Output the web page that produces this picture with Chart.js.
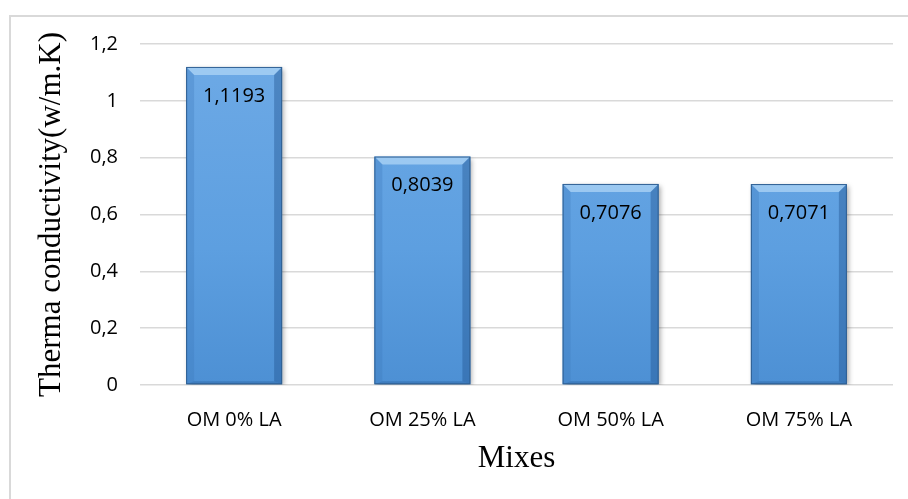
<!DOCTYPE html>
<html lang="en">
<head>
    <meta charset="UTF-8">
    <title>Therma conductivity</title>
    <script src="https://cdn.jsdelivr.net/npm/chart.js@4.4.1/dist/chart.umd.min.js"></script>
    <style>
        html, body { margin: 0; padding: 0; background: #fff; }
        .wrap { position: relative; width: 908px; height: 499px; overflow: hidden; }
        .frame { position: absolute; left: 9px; top: 15px; width: 920px; height: 520px;
                 border-left: 2px solid #d9d9d9; border-top: 2px solid #d9d9d9; box-sizing: border-box; }
        canvas { position: absolute; left: 0; top: 0; }
    </style>
</head>
<body>
<div class="wrap">
    <div class="frame"></div>
    <canvas id="myChart" width="908" height="499"></canvas>
</div>

<script>
    const categories = ['OM 0% LA', 'OM 25% LA', 'OM 50% LA', 'OM 75% LA'];
    const conductivity = [1.1193, 0.8039, 0.7076, 0.7071];
    const yTicks = [0, 0.2, 0.4, 0.6, 0.8, 1, 1.2];

    function comma(v) {
        return String(v).replace('.', ',');
    }

    // bevel + shadow look of the excel bars
    const bevelPlugin = {
        id: 'bevel',
        beforeDatasetDraw(chart) {
            const c = chart.ctx;
            c.save();
            c.shadowColor = 'rgba(0,0,0,0.35)';
            c.shadowBlur = 5;
            c.shadowOffsetX = 2;
            c.shadowOffsetY = 2;
        },
        afterDatasetDraw(chart) {
            const c = chart.ctx;
            c.restore();
            const b = 8;
            chart.getDatasetMeta(0).data.forEach(function(el) {
                const p = el.getProps(['x', 'y', 'base', 'width'], true);
                const l = p.x - p.width / 2, r = p.x + p.width / 2, t = p.y, bt = p.base;
                function poly(pts, col) {
                    c.beginPath();
                    c.moveTo(pts[0][0], pts[0][1]);
                    for (let i = 1; i < pts.length; i++) c.lineTo(pts[i][0], pts[i][1]);
                    c.closePath();
                    c.fillStyle = col;
                    c.fill();
                }
                c.save();
                poly([[l, t], [r, t], [r - b, t + b], [l + b, t + b]], 'rgba(170,210,245,0.8)');
                poly([[l, t], [l + b, t + b], [l + b, bt - 3], [l, bt]], 'rgba(60,120,185,0.3)');
                poly([[r, t], [r - b, t + b], [r - b, bt - 3], [r, bt]], 'rgba(30,80,140,0.4)');
                poly([[l, bt], [l + b, bt - 3], [r - b, bt - 3], [r, bt]], 'rgba(30,80,140,0.3)');
                c.strokeStyle = '#2f5f92';
                c.lineWidth = 1;
                c.strokeRect(l + 0.5, t + 0.5, p.width - 1, bt - t - 1);
                c.restore();
            });
        },
        afterDatasetsDraw(chart) {
            const c = chart.ctx;
            c.save();
            c.font = '20px "Open Sans"';
            c.fillStyle = '#000';
            c.textAlign = 'center';
            c.textBaseline = 'middle';
            chart.getDatasetMeta(0).data.forEach(function(el, i) {
                c.fillText(comma(conductivity[i]), el.x, el.y + 29);
            });
            c.restore();
        }
    };

    const ctx = document.getElementById('myChart').getContext('2d');
    const myChart = new Chart(ctx, {
        type: 'bar',
        data: {
            labels: categories,
            datasets: [{
                data: conductivity,
                backgroundColor: function(context) {
                    const area = context.chart.chartArea;
                    if (!area) return '#5b9bd5';
                    const g = context.chart.ctx.createLinearGradient(0, area.top, 0, area.bottom);
                    g.addColorStop(0, '#6eaae6');
                    g.addColorStop(0.6, '#5d9fe0');
                    g.addColorStop(1, '#4d90d4');
                    return g;
                },
                borderWidth: 0,
                categoryPercentage: 1,
                barPercentage: 0.51
            }]
        },
        options: {
            responsive: false,
            animation: false,
            layout: { padding: { top: 44, right: 15, left: 0, bottom: 0 } },
            plugins: {
                legend: { display: false },
                tooltip: { enabled: false }
            },
            scales: {
                x: {
                    grid: { display: false, drawTicks: false },
                    border: { display: false },
                    ticks: { padding: 23, color: '#000', font: { family: 'Open Sans', size: 20 } },
                    title: {
                        display: true,
                        text: 'Mixes',
                        color: '#000',
                        font: { family: 'Liberation Serif', size: 31 },
                        padding: { top: 0, bottom: 22 }
                    },
                    afterFit(scale) { scale.height = 114; }
                },
                y: {
                    min: 0,
                    max: 1.2,
                    afterBuildTicks(scale) {
                        scale.ticks = yTicks.map(function(v) { return { value: v }; });
                    },
                    grid: { color: '#d9d9d9', lineWidth: 1.5, drawTicks: false },
                    border: { display: false },
                    ticks: {
                        padding: 22,
                        color: '#000',
                        font: { family: 'Open Sans', size: 20 },
                        callback: function(v) { return comma(Number(v.toFixed(1))); }
                    },
                    title: {
                        display: true,
                        text: 'Therma conductivity(w/m.K)',
                        color: '#000',
                        font: { family: 'Liberation Serif', size: 31 },
                        padding: { top: 33, bottom: 0 }
                    },
                    afterFit(scale) { scale.width = 140; }
                }
            }
        },
        plugins: [bevelPlugin]
    });
</script>
</body>
</html>
